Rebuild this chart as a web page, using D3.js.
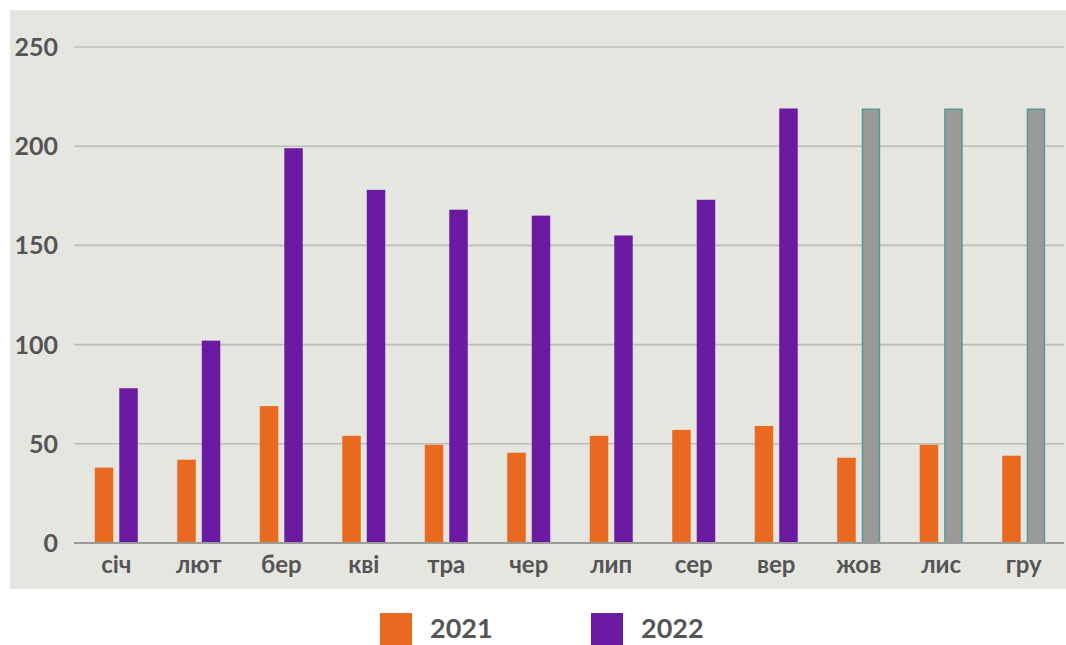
<!DOCTYPE html>
<html><head><meta charset="utf-8">
<script src="https://cdn.jsdelivr.net/npm/d3@7"></script>
<style>body{margin:0;background:#fff;}svg{display:block;}</style>
</head><body><svg id="c" width="1066" height="645"></svg>
<script>
const months = ["січ","лют","бер","кві","тра","чер","лип","сер","вер","жов","лис","гру"];
const values2021 = [38, 42, 69, 54, 49.5, 45.5, 54, 57, 59, 43, 49.5, 44];
const values2022 = [78, 102, 199, 178, 168, 165, 155, 173, 219, null, null, null];
const forecast2022 = [null, null, null, null, null, null, null, null, null, 219, 219, 219];
const yTicks = [0, 50, 100, 150, 200, 250];
const seriesNames = ["2021", "2022"];

const svg = d3.select("#c");
const colors = {"2021":"#e8691f","2022":"#6b1ba2"};
const textColor = "#555555";
const font = "Lato, 'Open Sans', sans-serif";

svg.append("rect").attr("x",10).attr("y",10).attr("width",1056).attr("height",579).attr("fill","#e6e6e1");

const x0 = d3.scaleBand().domain(months).range([75,1065]).paddingInner(0.479).paddingOuter(0.24);
const x1 = d3.scaleBand().domain(seriesNames).range([0, x0.bandwidth()]).paddingInner(0.245);
const y = d3.scaleLinear().domain([0,250]).range([543,47]);

// grid
svg.append("g").selectAll("line").data(yTicks.filter(d=>d>0)).join("line")
  .attr("x1",74).attr("x2",1064).attr("y1",d=>y(d)).attr("y2",d=>y(d))
  .attr("stroke","#bcbcb8").attr("stroke-width",1.6);

// y labels
svg.append("g").selectAll("text").data(yTicks).join("text")
  .attr("x",58).attr("y",d=>y(d)+9).attr("text-anchor","end")
  .attr("font-family",font).attr("font-weight","bold").attr("font-size",25)
  .attr("fill",textColor).text(d=>d);

// bars
const g = svg.append("g");
months.forEach((m,i)=>{
  const bx = x0(m);
  g.append("rect").attr("x",bx+x1("2021")).attr("y",y(values2021[i]))
    .attr("width",x1.bandwidth()).attr("height",y(0)-y(values2021[i])).attr("fill",colors["2021"]);
  if (values2022[i]!=null) {
    g.append("rect").attr("x",bx+x1("2022")).attr("y",y(values2022[i]))
      .attr("width",x1.bandwidth()).attr("height",y(0)-y(values2022[i])).attr("fill",colors["2022"]);
  }
  if (forecast2022[i]!=null) {
    g.append("rect").attr("x",bx+x1("2022")+0.75).attr("y",y(forecast2022[i])+0.75)
      .attr("width",x1.bandwidth()-1.5).attr("height",y(0)-y(forecast2022[i])-0.75)
      .attr("fill","#9a9a9a").attr("stroke","#4f9a98").attr("stroke-width",1.5);
  }
});

// baseline
svg.append("line").attr("x1",74).attr("x2",1064).attr("y1",y(0)).attr("y2",y(0))
  .attr("stroke","#9b9b98").attr("stroke-width",2.2);

// x labels
svg.append("g").selectAll("text").data(months).join("text")
  .attr("x",d=>x0(d)+x0.bandwidth()/2).attr("y",573).attr("text-anchor","middle")
  .attr("font-family",font).attr("font-weight","bold").attr("font-size",24)
  .attr("fill",textColor).text(d=>d);

// legend
const leg = [{name:"2021",x:380},{name:"2022",x:591}];
leg.forEach(l=>{
  svg.append("rect").attr("x",l.x).attr("y",613).attr("width",32).attr("height",32).attr("fill",colors[l.name]);
  svg.append("text").attr("x",l.x+50).attr("y",638).attr("font-family",font).attr("font-weight","bold")
    .attr("font-size",27).attr("fill",textColor).text(l.name);
});
</script></body></html>
